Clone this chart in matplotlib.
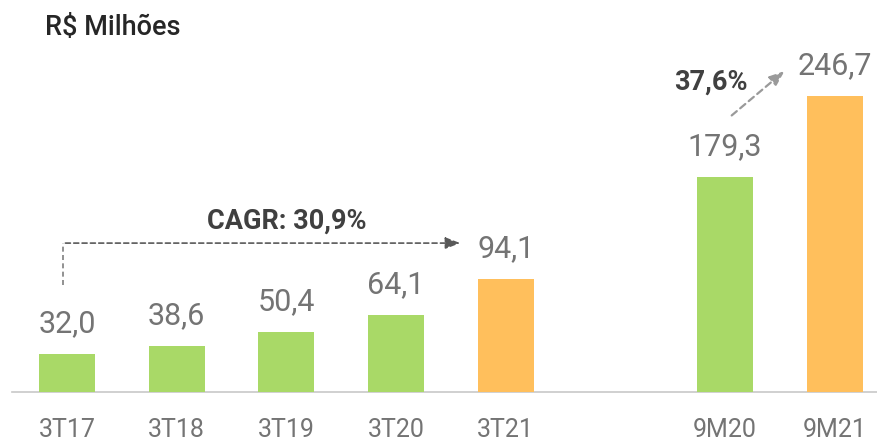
import matplotlib
matplotlib.use("Agg")
import matplotlib.pyplot as plt

# data
categories = ["3T17", "3T18", "3T19", "3T20", "3T21", "9M20", "9M21"]
positions = [0, 1, 2, 3, 4, 6, 7]
values = [32.0, 38.6, 50.4, 64.1, 94.1, 179.3, 246.7]
labels = ["32,0", "38,6", "50,4", "64,1", "94,1", "179,3", "246,7"]
is_current = [False, False, False, False, True, False, True]

GREEN = "#A9D967"
ORANGE = "#FFBF5C"
GRAY = "#747474"
DARK = "#404040"

plt.rcParams["font.family"] = ["Roboto", "DejaVu Sans"]

fig = plt.figure(figsize=(8.77, 4.43), dpi=100)
ax = fig.add_axes([0, 0, 1, 1])
ax.set_xlim(-0.611, 7.384)
ax.set_ylim(-42.5, 326.7)
ax.axis("off")

colors = [ORANGE if c else GREEN for c in is_current]
ax.bar(positions, values, width=0.51, color=colors, zorder=2)

# baseline
ax.axhline(0, xmin=0.014, xmax=1, color="#C8C8C8", lw=1.2, zorder=1)

# value labels and category labels
for x, v, lab, cat in zip(positions, values, labels, categories):
    ax.text(x, v + 18, lab, ha="center", va="baseline", fontsize=22, color=GRAY)
    ax.text(x, -31.5, cat, ha="center", va="center", fontsize=18, color=GRAY)

# CAGR annotation
cagr_y = values[4] + 30
ax.plot([positions[0] - 0.04, positions[0] - 0.04], [values[0] + 57, cagr_y],
        ls=(0, (3, 2)), color="#7F7F7F", lw=1.2)
ax.annotate("", xy=(positions[4] - 0.39, cagr_y), xytext=(positions[0] - 0.04, cagr_y),
            arrowprops=dict(arrowstyle="-|>,head_length=0.9,head_width=0.35",
                            ls=(0, (3, 2)), color="#595959", lw=1.2))
ax.text(2.0, 142.5, "CAGR: 30,9%", ha="center", va="center", fontsize=19.5,
        color=DARK, fontweight="bold")

# 9M growth annotation
ax.annotate("", xy=(6.56, 269), xytext=(6.04, 229),
            arrowprops=dict(arrowstyle="-|>,head_length=0.9,head_width=0.35",
                            ls=(0, (3, 2)), color="#9A9A9A", lw=1.6))
ax.text(5.87, 258, "37,6%", ha="center", va="center", fontsize=19.5,
        color=DARK, fontweight="bold")

fig.text(45 / 877, 1 - 28 / 443, "R$ Milhões", ha="left", va="center",
         fontsize=19.5, color="#262626", fontweight="medium")

fig.savefig("out.png", dpi=100)
